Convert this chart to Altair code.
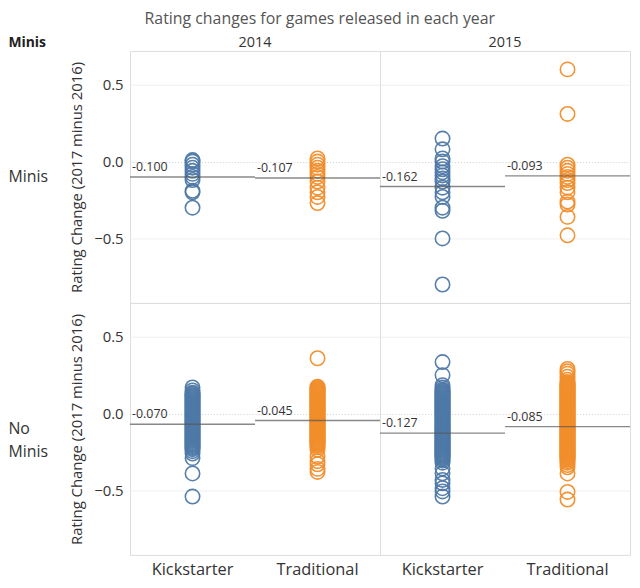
import altair as alt
import pandas as pd

FONT = "Open Sans"
title_text = "Rating changes for games released in each year"
row_field_title = "Minis"
y_title = "Rating Change (2017 minus 2016)"
row_groups = ["Minis", "No Minis"]
years = ["2014", "2015"]
types = ["Kickstarter", "Traditional"]
type_colors = ["#4e79a7", "#f28e2b"]
y_ticks = [-0.5, 0.0, 0.5]

minis_2014_kickstarter = [0.01, 0.0, -0.02, -0.04, -0.06, -0.08, -0.1, -0.12, -0.19, -0.2, -0.3]
minis_2014_traditional = [0.02, 0.0, -0.02, -0.04, -0.06, -0.08, -0.1, -0.13, -0.17, -0.2, -0.23, -0.27]
minis_2015_kickstarter = [0.15, 0.08, 0.02, 0.0, -0.03, -0.05, -0.07, -0.09, -0.11, -0.13, -0.17,
                          -0.2, -0.23, -0.3, -0.32, -0.5, -0.8]
minis_2015_traditional = [0.6, 0.31, -0.02, -0.04, -0.06, -0.08, -0.1, -0.12, -0.14, -0.17, -0.2,
                          -0.26, -0.28, -0.36, -0.48]

nominis_2014_kickstarter = [0.17, 0.15, 0.135, 0.128, 0.121, 0.114, 0.108, 0.101, 0.094, 0.088,
                            0.081, 0.075, 0.068, 0.062, 0.055, 0.049, 0.042, 0.036, 0.029, 0.023,
                            0.016, 0.010, 0.003, -0.004, -0.010, -0.017, -0.023, -0.030, -0.036,
                            -0.043, -0.049, -0.056, -0.062, -0.069, -0.075, -0.082, -0.088, -0.095,
                            -0.101, -0.108, -0.114, -0.121, -0.127, -0.134, -0.140, -0.147, -0.153,
                            -0.160, -0.166, -0.173, -0.179, -0.186, -0.192, -0.199, -0.205, -0.212,
                            -0.218, -0.225, -0.232, -0.245, -0.26, -0.29, -0.39, -0.54]
nominis_2014_traditional = [0.36, 0.175, 0.168, 0.161, 0.155, 0.148, 0.142, 0.135, 0.129, 0.122,
                            0.116, 0.109, 0.103, 0.096, 0.090, 0.083, 0.077, 0.070, 0.064, 0.057,
                            0.051, 0.044, 0.038, 0.031, 0.025, 0.018, 0.012, 0.005, -0.001, -0.008,
                            -0.014, -0.021, -0.027, -0.034, -0.040, -0.047, -0.053, -0.060, -0.066,
                            -0.073, -0.079, -0.086, -0.092, -0.099, -0.105, -0.112, -0.118, -0.125,
                            -0.131, -0.138, -0.144, -0.151, -0.157, -0.164, -0.170, -0.177, -0.183,
                            -0.190, -0.196, -0.203, -0.21, -0.22, -0.235, -0.28, -0.31, -0.33,
                            -0.36, -0.38]
nominis_2015_kickstarter = [0.335, 0.25, 0.185, 0.17, 0.155, 0.148, 0.141, 0.135, 0.128, 0.122,
                            0.115, 0.109, 0.102, 0.096, 0.089, 0.083, 0.076, 0.070, 0.063, 0.057,
                            0.050, 0.044, 0.037, 0.031, 0.024, 0.018, 0.011, 0.005, -0.002, -0.008,
                            -0.015, -0.021, -0.028, -0.034, -0.041, -0.047, -0.054, -0.060, -0.067,
                            -0.073, -0.080, -0.086, -0.093, -0.099, -0.106, -0.112, -0.119, -0.125,
                            -0.132, -0.138, -0.145, -0.151, -0.158, -0.164, -0.171, -0.177, -0.184,
                            -0.190, -0.197, -0.203, -0.210, -0.216, -0.223, -0.229, -0.236, -0.242,
                            -0.249, -0.255, -0.262, -0.268, -0.275, -0.281, -0.288, -0.295, -0.305,
                            -0.32, -0.357, -0.389, -0.432, -0.454, -0.486, -0.507, -0.54]
nominis_2015_traditional = [0.29, 0.275, 0.26, 0.24, 0.22, 0.205, 0.195, 0.188, 0.181, 0.175,
                            0.168, 0.162, 0.155, 0.149, 0.142, 0.136, 0.129, 0.123, 0.116, 0.110,
                            0.103, 0.097, 0.090, 0.084, 0.077, 0.071, 0.064, 0.058, 0.051, 0.045,
                            0.038, 0.032, 0.025, 0.019, 0.012, 0.006, -0.001, -0.007, -0.014,
                            -0.020, -0.027, -0.033, -0.040, -0.046, -0.053, -0.059, -0.066, -0.072,
                            -0.079, -0.085, -0.092, -0.098, -0.105, -0.111, -0.118, -0.124, -0.131,
                            -0.137, -0.144, -0.150, -0.157, -0.163, -0.170, -0.176, -0.183, -0.189,
                            -0.196, -0.202, -0.209, -0.215, -0.222, -0.228, -0.235, -0.241, -0.248,
                            -0.254, -0.261, -0.267, -0.274, -0.280, -0.287, -0.293, -0.30, -0.31,
                            -0.32, -0.335, -0.35, -0.39, -0.51, -0.56]

# averages in order: 2014 Kickstarter, 2014 Traditional, 2015 Kickstarter, 2015 Traditional
avg_minis = [-0.100, -0.107, -0.162, -0.093]
avg_no_minis = [-0.070, -0.045, -0.127, -0.085]

series = {
    ("Minis", "2014", "Kickstarter"): minis_2014_kickstarter,
    ("Minis", "2014", "Traditional"): minis_2014_traditional,
    ("Minis", "2015", "Kickstarter"): minis_2015_kickstarter,
    ("Minis", "2015", "Traditional"): minis_2015_traditional,
    ("No Minis", "2014", "Kickstarter"): nominis_2014_kickstarter,
    ("No Minis", "2014", "Traditional"): nominis_2014_traditional,
    ("No Minis", "2015", "Kickstarter"): nominis_2015_kickstarter,
    ("No Minis", "2015", "Traditional"): nominis_2015_traditional,
}
averages = {"Minis": avg_minis, "No Minis": avg_no_minis}

records = []
for (m, yr, t), vals in series.items():
    for v in vals:
        records.append({"minis": m, "year": yr, "type": t, "kind": "point", "value": v, "label": ""})
for m, avgs in averages.items():
    i = 0
    for yr in years:
        for t in types:
            records.append({"minis": m, "year": yr, "type": t, "kind": "avg",
                            "value": avgs[i], "label": f"{avgs[i]:.3f}"})
            i += 1
df = pd.DataFrame(records)

x_scale = alt.Scale(domain=types, paddingInner=0, paddingOuter=0)
x_axis = alt.Axis(title=None, labelAngle=0, ticks=False, domain=False, grid=False,
                  labelFontSize=16.5, labelColor="#333333", labelPadding=7, labelFont=FONT)


def x_enc(band=0.5):
    return alt.X("type:N", sort=types, scale=x_scale, axis=x_axis, bandPosition=band)


y_scale = alt.Scale(domain=[-0.92, 0.72], nice=False, zero=False)
y_axis = alt.Axis(values=y_ticks, format=".1f", title=y_title, ticks=False, domain=False,
                  labelFontSize=15, titleFontSize=15, titleFontWeight="normal",
                  titleColor="#333333", labelColor="#333333", labelPadding=7, titlePadding=9,
                  labelFont=FONT, titleFont=FONT,
                  gridColor=alt.condition("datum.value === 0", alt.value("#cccccc"), alt.value("#efefef")),
                  gridDash=alt.condition("datum.value === 0", alt.value([1, 2]), alt.value([])))
y_enc = alt.Y("value:Q", scale=y_scale, axis=y_axis)

points = alt.Chart().transform_filter("datum.kind === 'point'").mark_point(
    shape="circle", filled=False, size=210, strokeWidth=1.6, opacity=0.95
).encode(
    x=x_enc(0.5), y=y_enc,
    color=alt.Color("type:N", scale=alt.Scale(domain=types, range=type_colors), legend=None),
)

rules = alt.Chart().transform_filter("datum.kind === 'avg'").mark_rule(
    color="#555555", strokeWidth=1.4, opacity=0.7
).encode(x=x_enc(0), x2=alt.X2("type", bandPosition=1), y=y_enc)

labels = alt.Chart().transform_filter("datum.kind === 'avg'").mark_text(
    align="left", baseline="bottom", dx=2, dy=-3, fontSize=12.5, color="#333333", font=FONT
).encode(x=x_enc(0), y=y_enc, text="label:N")

layer = alt.layer(points, rules, labels, data=df).properties(width=252, height=254)

facet = layer.facet(
    row=alt.Row("minis:N", sort=row_groups, title=None,
                header=alt.Header(labelAngle=0, labelAlign="left", labelFontSize=16,
                                  labelColor="#333333", labelFont=FONT, labelLineHeight=23,
                                  labelExpr="split(datum.value, ' ')", labelPadding=22)),
    column=alt.Column("year:N", sort=years, title=None,
                      header=alt.Header(labelFontSize=14.5, labelColor="#333333", labelFont=FONT,
                                        labelPadding=0)),
    spacing=0,
    bounds="flush",
).properties(
    title=alt.TitleParams(row_field_title, anchor="start", frame="bounds", fontSize=14,
                          fontWeight="bold", color="#222222", font=FONT, dy=19)
)

chart = alt.vconcat(
    facet,
    title=alt.TitleParams(title_text, anchor="middle", fontSize=16, fontWeight="normal",
                          color="#555555", font=FONT, offset=7, dy=-2),
).properties(padding={"left": 0, "top": 0, "right": 0, "bottom": 0}).configure_view(
    stroke="#dddddd", strokeWidth=1
).configure(font=FONT)

chart.save("out.html", embed_options={"renderer": "svg", "actions": False})
